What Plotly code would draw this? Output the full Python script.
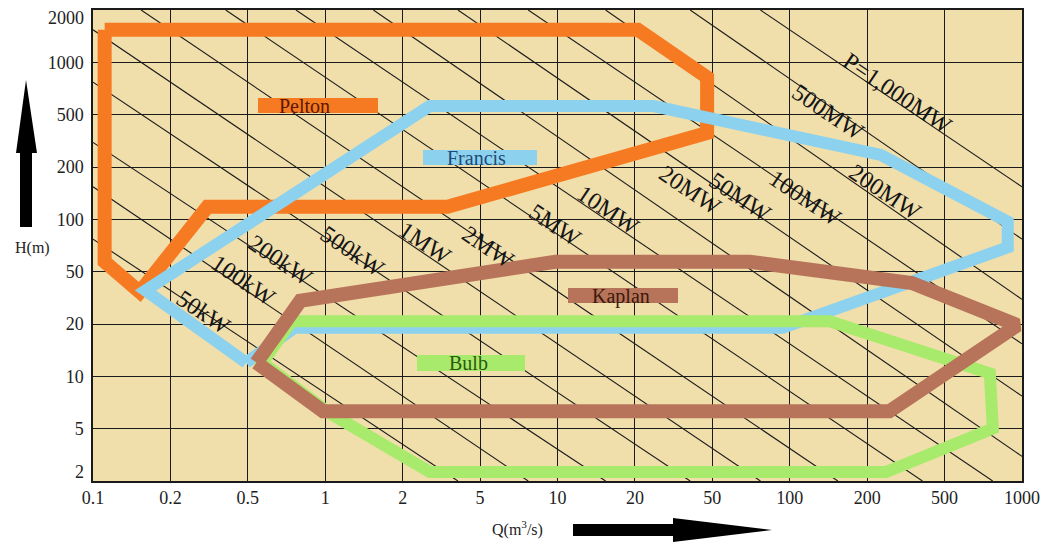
import numpy as np
import plotly.graph_objects as go

# ---------------- data ----------------
Q_TICKS = [0.1, 0.2, 0.5, 1, 2, 5, 10, 20, 50, 100, 200, 500, 1000]
Q_LABELS = ["0.1", "0.2", "0.5", "1", "2", "5", "10", "20", "50", "100", "200", "500", "1000"]
H_TICKS = [2, 5, 10, 20, 50, 100, 200, 500, 1000, 2000]
H_LABELS = ["2", "5", "10", "20", "50", "100", "200", "500", "1000", "2000"]

POWER_KW = [50, 100, 200, 500, 1e3, 2e3, 5e3, 1e4, 2e4, 5e4, 1e5, 2e5, 5e5, 1e6]
POWER_LABELS = ["50kW", "100kW", "200kW", "500kW", "1MW", "2MW", "5MW", "10MW",
                "20MW", "50MW", "100MW", "200MW", "500MW", "P=1,000MW"]
K_COEF = 6.5  # kW per (m3/s * m)

PELTON_Q = [0.111, 20.7, 47, 47, 3.4, 0.31, 0.152, 0.111, 0.111]
PELTON_H = [1540, 1540, 820, 363, 118, 118, 35, 57, 1540]

FRANCIS_Q = [0.49, 0.16, 2.75, 25, 235, 880, 880, 94, 0.76, 0.49]
FRANCIS_H = [12, 36, 560, 560, 247, 97, 69, 19, 19, 12]

KAPLAN_Q = [0.54, 0.8, 9.8, 70, 340, 960, 260, 0.98, 0.54]
KAPLAN_H = [12, 30, 57, 57, 41, 19.7, 6.3, 6.3, 12]

BULB_Q = [0.74, 143, 750, 770, 250, 2.76, 1.03, 0.57, 0.74]
BULB_H = [21, 21, 10.4, 5, 2.34, 2.34, 6.2, 12, 21]

# ---------------- helpers ----------------
def q_pos(q):
    return np.interp(np.log10(np.asarray(q, float)), np.log10(Q_TICKS), np.arange(len(Q_TICKS)))

def h_pos(h):
    return np.interp(np.log10(np.asarray(h, float)), np.log10(H_TICKS), np.arange(len(H_TICKS)))

# screen-pixel plot area (page body has an 8px margin)
BODY = 8
L, T, W, HGT = 93, 10, 929, 471
FIG_W, FIG_H = 1052 - BODY, 543 - BODY
def xi(px): return (px - L) / W * 12
def yi(py): return (T + HGT - py) / HGT * 9
def xp(px): return (px - L) / W
def yp(py): return (T + HGT - py) / HGT

SERIF = "Liberation Serif, Times New Roman, serif"
BG = "#F0DEAB"

fig = go.Figure()

# iso-power diagonal lines (straight between where they enter and leave the chart)
dx, dy = [], []
for p in POWER_KW:
    c = p / K_COEF
    qmin = max(Q_TICKS[0], c / H_TICKS[-1])
    qmax = min(Q_TICKS[-1], c / H_TICKS[0])
    if qmin >= qmax:
        continue
    qs = np.array([qmin, qmax])
    dx += list(q_pos(qs)) + [None]
    dy += list(h_pos(c / qs)) + [None]
fig.add_trace(go.Scatter(x=dx, y=dy, mode="lines", line=dict(color="#1a1a1a", width=1.1),
                         hoverinfo="skip", showlegend=False))

def region(qv, hv, color, width):
    fig.add_trace(go.Scatter(x=q_pos(qv), y=h_pos(hv), mode="lines",
                             line=dict(color=color, width=width),
                             hoverinfo="skip", showlegend=False))

region(PELTON_Q, PELTON_H, "#F67A22", 14)
region(FRANCIS_Q, FRANCIS_H, "#8CD2EE", 12)
region(BULB_Q, BULB_H, "#A8EA6C", 12)
region(KAPLAN_Q, KAPLAN_H, "#B8745A", 14)

# power labels
LABEL_PX = [(203, 312), (243, 280), (280, 260), (352, 251), (425, 243), (488, 247),
            (555, 225), (608, 210), (690, 190), (740, 197), (805, 198), (885, 192),
            (828, 112), (897, 93)]
annotations = []
for txt, (px, py) in zip(POWER_LABELS, LABEL_PX):
    annotations.append(dict(x=xi(px), y=yi(py), xref="x", yref="y", text=txt,
                            showarrow=False, textangle=34,
                            font=dict(family=SERIF, size=24, color="#151515")))

# region name boxes
shapes = []
BOXES = [
    ("Pelton", (258, 98, 378, 113), "#F67A22", "#5A1800", (304, 106)),
    ("Francis", (423, 150, 537, 165), "#8CD2EE", "#1F4A78", (476, 158)),
    ("Kaplan", (568, 288, 678, 303), "#B8745A", "#3A1A0C", (621, 296)),
    ("Bulb", (417, 355, 525, 371), "#A8EA6C", "#2A5A0A", (468, 363)),
]
for name, (x0, y0, x1, y1), fc, tc, (tx, ty) in BOXES:
    shapes.append(dict(type="rect", xref="x", yref="y", x0=xi(x0), x1=xi(x1),
                       y0=yi(y1), y1=yi(y0), fillcolor=fc, line=dict(width=0), layer="above"))
    annotations.append(dict(x=xi(tx), y=yi(ty), xref="x", yref="y", text=name,
                            showarrow=False, font=dict(family=SERIF, size=20, color=tc)))

TICK_FONT = dict(family=SERIF, size=18, color="#222")
# end labels of the H axis, nudged inward as in the original
annotations.append(dict(x=xp(86), y=yp(18), xref="paper", yref="paper", text=H_LABELS[-1],
                        xanchor="right", yanchor="middle", showarrow=False, font=TICK_FONT))
annotations.append(dict(x=xp(86), y=yp(472), xref="paper", yref="paper", text=H_LABELS[0],
                        xanchor="right", yanchor="middle", showarrow=False, font=TICK_FONT))

# axis titles
annotations.append(dict(x=xp(32), y=yp(248), xref="paper", yref="paper", text="H(m)",
                        xanchor="center", yanchor="middle",
                        showarrow=False, font=dict(family=SERIF, size=16, color="#222")))
annotations.append(dict(x=xp(517), y=yp(528), xref="paper", yref="paper", text="Q(m<sup>3</sup>/s)",
                        xanchor="center", yanchor="middle",
                        showarrow=False, font=dict(family=SERIF, size=16, color="#222")))

# arrows
def path(pts):
    return "M " + " L ".join(f"{xp(a):.5f},{yp(b):.5f}" for a, b in pts) + " Z"

up_arrow = [(20, 227), (32, 227), (32, 153), (37, 153), (26, 80), (16, 153), (20, 153)]
right_arrow = [(573, 524), (673, 524), (673, 518), (772, 530), (673, 542), (673, 536), (573, 536)]
for pts in (up_arrow, right_arrow):
    shapes.append(dict(type="path", xref="paper", yref="paper", path=path(pts),
                       fillcolor="black", line=dict(width=0)))

axis_common = dict(showgrid=True, gridcolor="#1a1a1a", gridwidth=1.2, zeroline=False,
                   showline=True, linecolor="#1a1a1a", linewidth=1.5, mirror=True,
                   ticks="", automargin=False, tickfont=TICK_FONT)

fig.update_layout(
    width=FIG_W, height=FIG_H,
    margin=dict(l=L - BODY, r=FIG_W - (L - BODY) - W, t=T - BODY, b=FIG_H - (T - BODY) - HGT),
    plot_bgcolor=BG, paper_bgcolor="white",
    xaxis=dict(range=[0, 12], tickvals=list(range(13)), ticktext=Q_LABELS, **axis_common),
    yaxis=dict(range=[0, 9], tickvals=list(range(1, 9)), ticktext=H_LABELS[1:-1],
               ticklabelstandoff=4, **axis_common),
    annotations=annotations, shapes=shapes, showlegend=False,
)

fig.write_html("out.html")
